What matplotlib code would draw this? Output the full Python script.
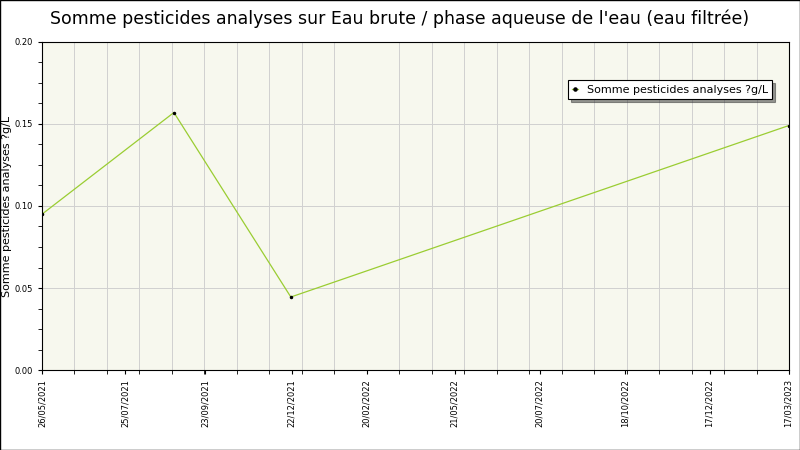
import matplotlib
matplotlib.use("Agg")
import matplotlib.pyplot as plt
import numpy as np

# x positions on an index scale (axis is not linear in time)
x_pos = [0, 132, 249, 747]
values = [0.095, 0.157, 0.0445, 0.149]
tick_pos = [0, 83, 163, 250, 325, 413, 498, 583, 668, 747]
tick_labels = ["26/05/2021", "25/07/2021", "23/09/2021", "22/12/2021", "20/02/2022",
               "21/05/2022", "20/07/2022", "18/10/2022", "17/12/2022", "17/03/2023"]
series_name = "Somme pesticides analyses ?g/L"

fig = plt.figure(figsize=(8, 4.5), dpi=100)
ax = fig.add_axes([42 / 800, 1 - 370 / 450, 747 / 800, 328 / 450])
ax.set_facecolor("#f7f8ee")

ax.plot(x_pos, values, color="#9acd32", lw=0.9, marker="o", ms=1.5,
        mfc="black", mec="black", label=series_name)

ax.set_xlim(0, 747)
ax.set_ylim(0, 0.2)
ax.set_yticks(np.arange(0, 0.201, 0.05))
ax.set_yticklabels([f"{v:.2f}" for v in np.arange(0, 0.201, 0.05)], fontsize=6)
ax.set_xticks(tick_pos)
ax.set_xticklabels(tick_labels, rotation=90, fontsize=6)
ax.set_xticks(np.arange(0, 748, 32.5), minor=True)
ax.set_yticks(np.arange(0, 0.201, 0.0125), minor=True)
ax.grid(True, which="major", axis="y", color="#d0d0d0", lw=0.7)
ax.grid(True, which="minor", axis="x", color="#d0d0d0", lw=0.7)
ax.tick_params(axis="both", which="both", length=3)
ax.set_ylabel(series_name, fontsize=8, labelpad=2)

fig.suptitle("Somme pesticides analyses sur Eau brute / phase aqueuse de l'eau (eau filtrée)",
             fontsize=12.5, y=0.98)
leg = ax.legend(loc="upper right", bbox_to_anchor=(0.985, 0.9), fontsize=8,
                fancybox=False, shadow={"ox": 2, "oy": -2, "color": "#333333"},
                edgecolor="black", markerscale=1.5, handlelength=0.5)
leg.get_frame().set_linewidth(0.8)

fig.patches.append(plt.Rectangle((0, 0), 1, 1, transform=fig.transFigure,
                                 fill=False, edgecolor="black", lw=1))
fig.savefig("out.png", dpi=100)
